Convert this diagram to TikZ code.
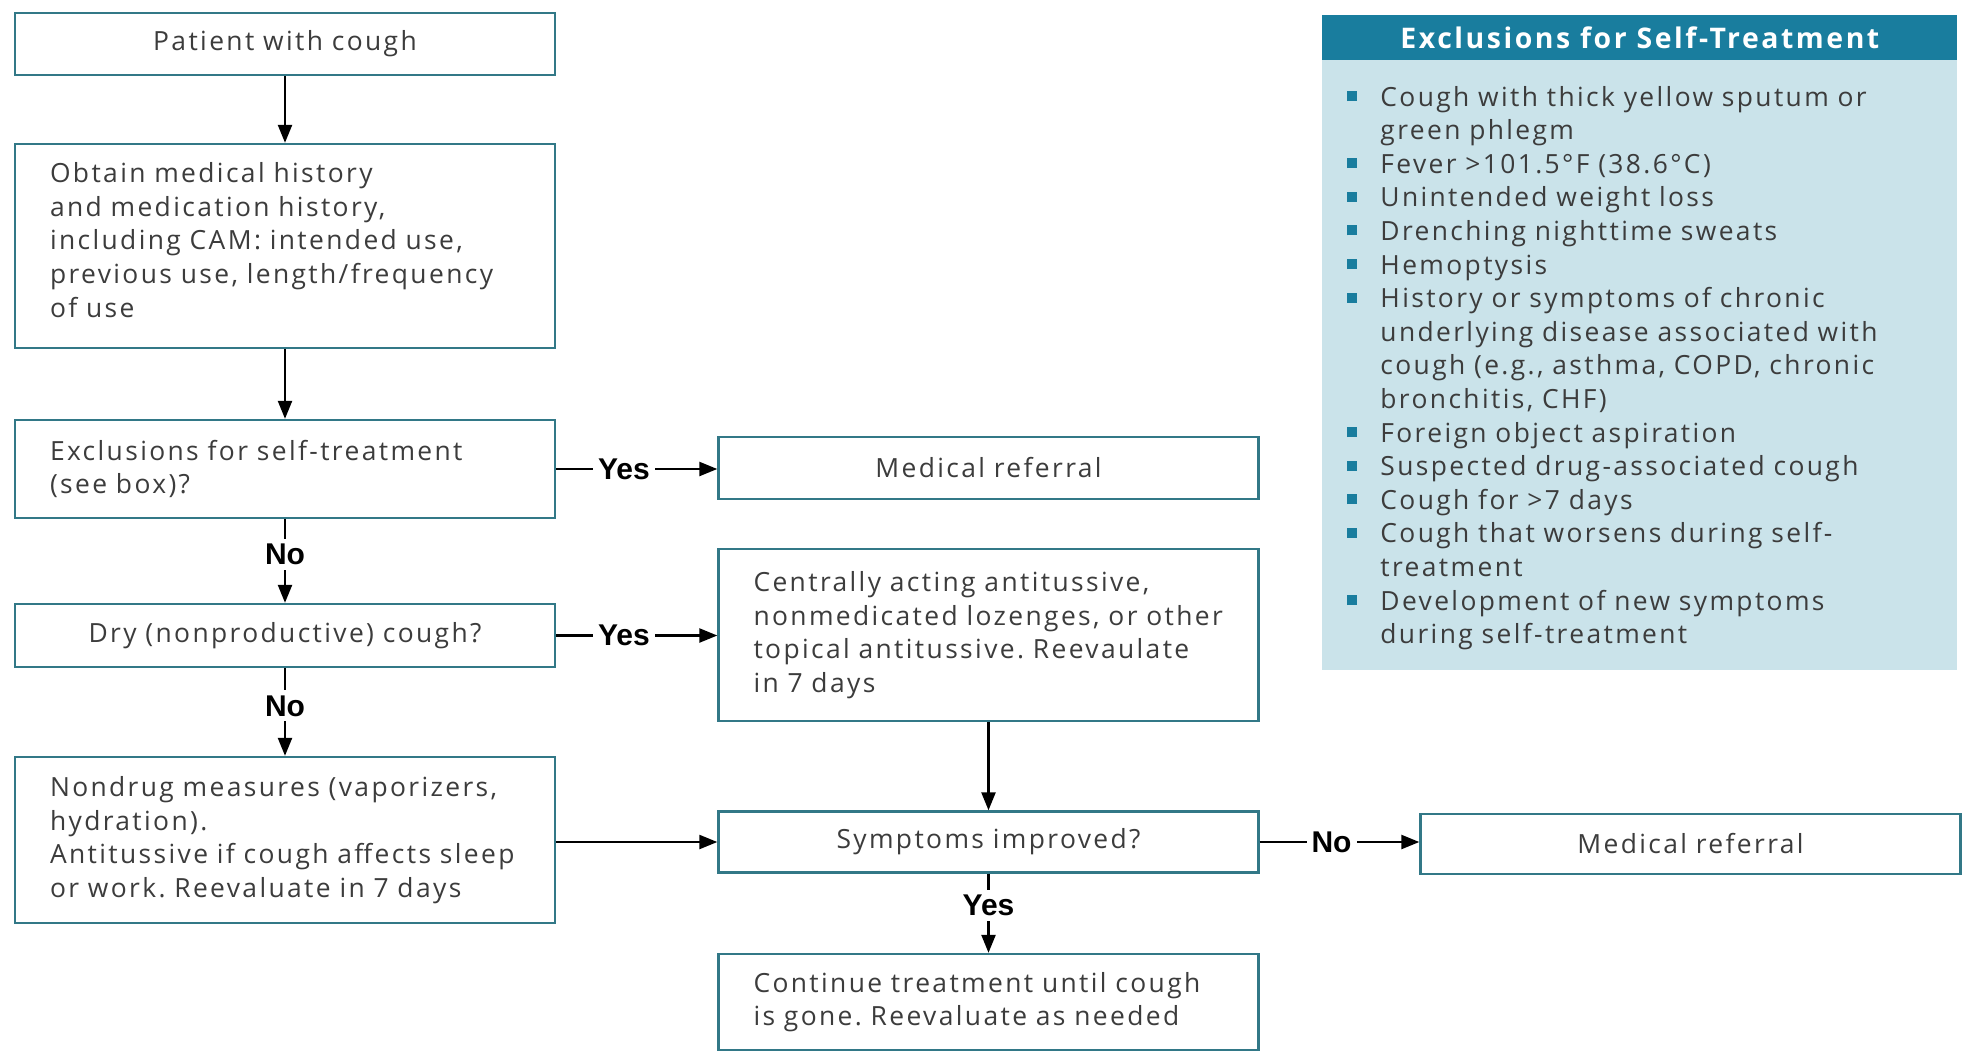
\documentclass[tikz,border=0pt]{standalone}
\usepackage{fontspec}
\setmainfont{Open Sans}[LetterSpace=9]
\newfontfamily\lblfont{Liberation Sans}
\usetikzlibrary{arrows.meta}
\frenchspacing
\definecolor{boxc}{RGB}{50,120,135}
\definecolor{txtc}{RGB}{60,60,60}
\definecolor{headc}{RGB}{25,125,158}
\definecolor{panelc}{RGB}{202,227,234}
\newcommand{\exitem}[1]{\par\hangindent=16.5pt\hangafter=1\noindent\makebox[16.5pt][l]{\textcolor{headc}{\raisebox{2.5pt}{\rule{5pt}{5pt}}}}#1}
\begin{document}
\begin{tikzpicture}[x=0.5pt,y=-0.5pt,
 box/.style={draw=boxc,line width=1.2pt,fill=white,minimum width=270pt,text width=235pt,inner xsep=17.5pt,inner ysep=0pt,text=txtc,font=\fontsize{13.2}{16.8}\selectfont},
 lbox/.style={box,align=left},
 cbox/.style={box,align=center},
 arr/.style={line width=1.2pt,-{Triangle[length=9pt,width=7pt]}},
 lbl/.style={fill=white,inner sep=2.5pt,font=\lblfont\bfseries\fontsize{15}{15}\selectfont,text=black}]
\useasboundingbox (0,0) rectangle (1965,1051);
% left column
\node[cbox,minimum height=31pt] (pat) at (285,44) {Patient with cough};
\node[lbox,minimum height=102pt] (hist) at (285,246) {Obtain medical history\\and medication history,\\including CAM: intended use,\\previous use, length/frequency\\of use\par\vspace*{6pt}};
\node[lbox,minimum height=49pt] (excl) at (285,469) {Exclusions for self-treatment\\(see box)?};
\node[cbox,minimum height=31.5pt] (dry) at (285,635.5) {Dry (nonproductive) cough?};
\node[lbox,minimum height=83pt] (nond) at (285,840) {Nondrug measures (vaporizers,\\hydration).\\Antitussive if cough affects sleep\\or work. Reevaluate in 7 days};
% middle column
\node[cbox,minimum height=31pt] (ref1) at (988.5,468) {Medical referral};
\node[lbox,minimum height=86pt] (cent) at (988.5,635) {Centrally acting antitussive,\\nonmedicated lozenges, or other\\topical antitussive. Reevaulate\\in 7 days};
\node[cbox,minimum height=30.5pt] (sym) at (988.5,842) {Symptoms improved?};
\node[lbox,minimum height=48pt] (cont) at (988.5,1002) {Continue treatment until cough\\is gone. Reevaluate as needed};
\node[cbox,minimum height=30pt] (ref2) at (1690.5,844) {Medical referral};
% panel
\node[fill=panelc,anchor=north west,minimum width=317.5pt,minimum height=327.5pt,inner sep=0pt] (panel) at (1322,15) {};
\node[fill=headc,anchor=north west,minimum width=317.5pt,minimum height=22.5pt,inner sep=0pt,text=white,font=\bfseries\fontsize{14.2}{14}\selectfont] (head) at (1322,15) {Exclusions for Self-Treatment};
\node[anchor=north west,text width=305pt,inner sep=0pt,align=left,text=txtc,font=\fontsize{13.2}{16.8}\selectfont] (list) at (1347,72) {%
\exitem{Cough with thick yellow sputum or\newline green phlegm}
\exitem{Fever >101.5°F (38.6°C)}
\exitem{Unintended weight loss}
\exitem{Drenching nighttime sweats}
\exitem{Hemoptysis}
\exitem{History or symptoms of chronic\newline underlying disease associated with\newline cough (e.g., asthma, COPD, chronic\newline bronchitis, CHF)}
\exitem{Foreign object aspiration}
\exitem{Suspected drug-associated cough}
\exitem{Cough for >7 days}
\exitem{Cough that worsens during self-\newline treatment}
\exitem{Development of new symptoms\newline during self-treatment}\par};
% connectors
\draw[arr] (pat) -- (hist);
\draw[arr] (hist) -- (excl);
\draw[arr] (excl) -- node[lbl,pos=0.42]{No} (dry);
\draw[arr] (dry) -- node[lbl,pos=0.43]{No} (nond);
\draw[arr] (excl.east) -- node[lbl,pos=0.42]{Yes} (excl.east -| ref1.west);
\draw[arr] (dry.east) -- node[lbl,pos=0.42]{Yes} (dry.east -| cent.west);
\draw[arr] (nond.east |- sym) -- (sym.west);
\draw[arr] (cent) -- (sym);
\draw[arr] (sym.east) -- node[lbl,pos=0.45]{No} (sym.east -| ref2.west);
\draw[arr] (sym) -- node[lbl,pos=0.4]{Yes} (cont);
\end{tikzpicture}
\end{document}
